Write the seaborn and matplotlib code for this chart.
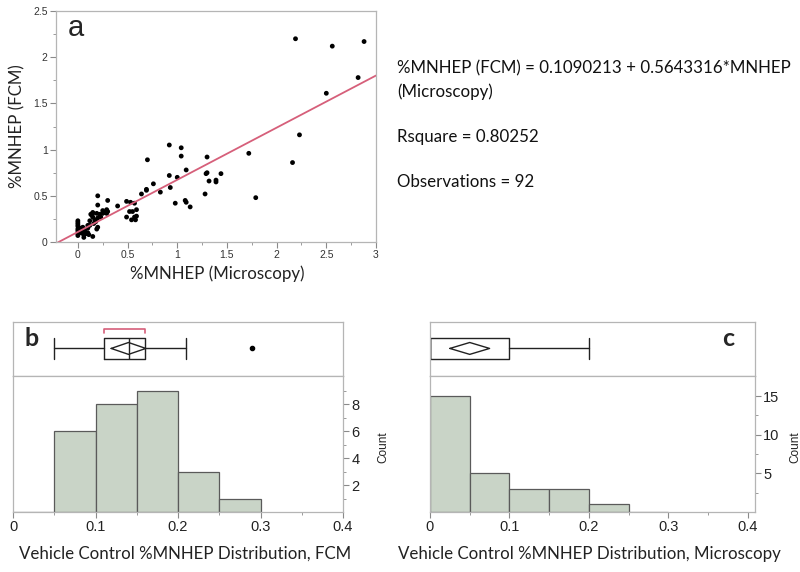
import numpy as np
import pandas as pd
import seaborn as sns
import matplotlib.pyplot as plt
from matplotlib.ticker import MultipleLocator, FixedLocator

# ----- Data -----
micro = [2.19, 2.56, 2.88, 2.82, 2.50, 2.23, 2.16, 1.72, 1.79, 1.30,
         1.30, 1.29, 1.32, 1.39, 1.39, 1.44, 1.28, 1.13, 1.08, 1.09,
         1.09, 1.04, 1.04, 0.92, 0.92, 0.93, 1.00, 0.98, 0.70, 0.69,
         0.69, 0.76, 0.83, 0.64, 0.40, 0.49, 0.49, 0.53, 0.52, 0.55,
         0.54, 0.57, 0.58, 0.59, 0.59, 0.30, 0.29, 0.30, 0.29, 0.25,
         0.25, 0.23, 0.20, 0.20, 0.19, 0.20, 0.19, 0.20, 0.17, 0.15,
         0.14, 0.15, 0.15, 0.15, 0.12, 0.12, 0.10, 0.10, 0.11, 0.07,
         0.05, 0.05, 0.06, 0.00, 0.00, 0.00, 0.00, 0.00, 0.00, 0.00,
         0.00, 0.03, 0.08, 0.10, 0.22, 0.27, 0.57, 0.13, 0.18, 0.05,
         0.02, 0.16]
fcm = [2.20, 2.12, 2.17, 1.78, 1.61, 1.16, 0.86, 0.96, 0.48, 0.92,
       0.75, 0.74, 0.66, 0.67, 0.65, 0.74, 0.52, 0.38, 0.45, 0.43,
       0.78, 0.93, 1.02, 1.05, 0.72, 0.59, 0.70, 0.42, 0.89, 0.57,
       0.56, 0.63, 0.54, 0.52, 0.39, 0.44, 0.27, 0.43, 0.33, 0.33,
       0.24, 0.42, 0.24, 0.35, 0.28, 0.45, 0.35, 0.33, 0.31, 0.34,
       0.31, 0.27, 0.50, 0.40, 0.31, 0.26, 0.14, 0.16, 0.24, 0.31,
       0.29, 0.27, 0.32, 0.06, 0.23, 0.18, 0.18, 0.10, 0.08, 0.13,
       0.16, 0.09, 0.05, 0.23, 0.21, 0.19, 0.17, 0.14, 0.12, 0.09,
       0.07, 0.15, 0.09, 0.15, 0.30, 0.32, 0.27, 0.30, 0.22, 0.12,
       0.10, 0.20]
intercept = 0.1090213
slope = 0.5643316

bin_edges = [0.0, 0.05, 0.10, 0.15, 0.20, 0.25, 0.30]
bin_centers = [0.025, 0.075, 0.125, 0.175, 0.225, 0.275]
fcm_counts = [0, 6, 8, 9, 3, 1]
micro_counts = [15, 5, 3, 3, 1, 0]

# box stats: whisker low, q1, median, q3, whisker high, outliers
fcm_box = dict(whislo=0.05, q1=0.11, med=0.14, q3=0.16, whishi=0.21, fliers=[0.29])
micro_box = dict(whislo=0.0, q1=0.0, med=0.0, q3=0.10, whishi=0.20, fliers=[])
fcm_mean_ci = [0.119, 0.14, 0.161]     # low, mean, high of the diamond
micro_mean_ci = [0.025, 0.05, 0.075]
fcm_shortest_half = [0.11, 0.16]

sns.set_style("ticks")
plt.rcParams['font.family'] = ['Liberation Sans', 'DejaVu Sans']
LBL = ['Lato', 'DejaVu Sans']
FRAME = '#b5b5b5'
HIST_FC = '#c9d4c7'
LINE_C = '#d65f7a'
LBL_SIZE = 12.2

fig = plt.figure(figsize=(8, 5.72), dpi=100)


def frame(ax, color=FRAME):
    for s in ax.spines.values():
        s.set_color(color)
        s.set_linewidth(0.9)
    ax.tick_params(which='both', color='#8a8a8a', direction='out')
    ax.tick_params(which='major', length=4)
    ax.tick_params(which='minor', length=2.5)


# ----- a: scatter -----
ax = fig.add_axes([0.07, 0.5769, 0.40, 0.4038])
df = pd.DataFrame({'micro': micro, 'fcm': fcm})
sns.scatterplot(data=df, x='micro', y='fcm', ax=ax, color='black',
                s=12, edgecolor='none', linewidth=0)
xlim = (-0.22, 3.0)
xs = np.array(xlim)
sns.lineplot(x=xs, y=intercept + slope * xs, ax=ax, color=LINE_C, linewidth=1.3)
ax.set_xlim(*xlim)
ax.set_ylim(0, 2.5)
ax.xaxis.set_major_locator(MultipleLocator(0.5))
ax.xaxis.set_minor_locator(MultipleLocator(0.25))
ax.yaxis.set_major_locator(MultipleLocator(0.5))
ax.yaxis.set_minor_locator(MultipleLocator(0.25))
ax.xaxis.set_major_formatter(plt.FuncFormatter(lambda v, p: f'{v:g}'))
ax.yaxis.set_major_formatter(plt.FuncFormatter(lambda v, p: f'{v:g}'))
frame(ax)
ax.tick_params(labelsize=7.5, labelcolor='#333333', pad=2)
ax.set_xlabel('%MNHEP (Microscopy)', fontsize=LBL_SIZE, family=LBL, color='#222222')
ax.set_ylabel('%MNHEP (FCM)', fontsize=LBL_SIZE, family=LBL, color='#222222')
ax.xaxis.set_label_coords(0.503, -0.1)
ax.yaxis.set_label_coords(-0.095, 0.5)
ax.text(0.037, 0.926, 'a', transform=ax.transAxes, fontsize=21, va='center', ha='left')

eq_lines = [('%MNHEP (FCM) = 0.1090213 + 0.5643316*MNHEP', 0.881),
            ('(Microscopy)', 0.839),
            ('Rsquare = 0.80252', 0.760),
            ('Observations = 92', 0.682)]
for txt, yy in eq_lines:
    fig.text(0.496, yy, txt, fontsize=LBL_SIZE, family=LBL, va='center', ha='left', color='#111111')


def panel(box_rect, hist_rect, counts, xmax, ymax, ymaj, ymin_, stats, diamond,
          label, label_x, xlabel, xlabel_x, bracket=None):
    bax = fig.add_axes(box_rect)
    hax = fig.add_axes(hist_rect)

    # histogram
    sns.histplot(x=bin_centers, weights=counts, bins=bin_edges, ax=hax,
                 color=HIST_FC, edgecolor='#5a5a5a', linewidth=0.9, alpha=1.0)
    hax.set_xlim(0, xmax)
    hax.set_ylim(0, ymax)
    hax.xaxis.set_major_locator(MultipleLocator(0.1))
    hax.xaxis.set_minor_locator(MultipleLocator(0.05))
    hax.yaxis.set_major_locator(FixedLocator(ymaj))
    hax.yaxis.set_minor_locator(FixedLocator(ymin_))
    hax.xaxis.set_major_formatter(plt.FuncFormatter(lambda v, p: f'{v:g}'))
    hax.yaxis.set_major_formatter(plt.FuncFormatter(lambda v, p: f'{v:g}'))
    hax.yaxis.tick_right()
    frame(hax)
    hax.tick_params(labelsize=10.5, labelcolor='#222222', pad=2)
    hax.set_ylabel('Count', fontsize=8.5, color='#222222')
    hax.yaxis.set_label_position('right')
    hax.yaxis.label.set_rotation(90)
    hax.yaxis.set_label_coords(1.105, 0.48)
    hax.set_xlabel(xlabel, fontsize=LBL_SIZE, family=LBL, color='#222222')
    hax.xaxis.set_label_coords(xlabel_x, -0.25)

    # outlier box plot
    bxp_stats = [dict(stats, label='')]
    bax.bxp(bxp_stats, positions=[0.51], widths=0.4, capwidths=0.4,
            orientation='horizontal', showfliers=True,
            boxprops=dict(color='#222222', linewidth=1.0),
            whiskerprops=dict(color='#222222', linewidth=1.0),
            capprops=dict(color='#222222', linewidth=1.0),
            medianprops=dict(color='#222222', linewidth=1.0),
            flierprops=dict(marker='o', markersize=3, markerfacecolor='black',
                            markeredgecolor='black'))
    lo, mid, hi = diamond
    bax.plot([lo, mid, hi, mid, lo], [0.51, 0.62, 0.51, 0.40, 0.51],
             color='#222222', linewidth=1.0)
    if bracket is not None:
        b0, b1 = bracket
        bax.plot([b0, b0, b1, b1], [0.80, 0.87, 0.87, 0.80], color=LINE_C, linewidth=1.2)
    bax.set_xlim(0, xmax)
    bax.set_ylim(0, 1)
    bax.set_xticks([])
    bax.set_yticks([])
    frame(bax)
    bax.text(label_x, 0.70, label, transform=bax.transAxes, fontsize=18,
             family=LBL, fontweight='bold', va='center', ha='left')


panel([0.01625, 0.3427, 0.4125, 0.0944], [0.01625, 0.1049, 0.4125, 0.2378],
      fcm_counts, 0.4, 10.1, [2, 4, 6, 8], [1, 3, 5, 7, 9], fcm_box, fcm_mean_ci,
      'b', 0.036, 'Vehicle Control %MNHEP Distribution, FCM', 0.52,
      bracket=fcm_shortest_half)
panel([0.5375, 0.3427, 0.40625, 0.0944], [0.5375, 0.1049, 0.40625, 0.2378],
      micro_counts, 0.409, 17.6, [5, 10, 15], [2.5, 7.5, 12.5], micro_box, micro_mean_ci,
      'c', 0.898, 'Vehicle Control %MNHEP Distribution, Microscopy', 0.49)

fig.savefig('out.png', dpi=100, facecolor='white')
